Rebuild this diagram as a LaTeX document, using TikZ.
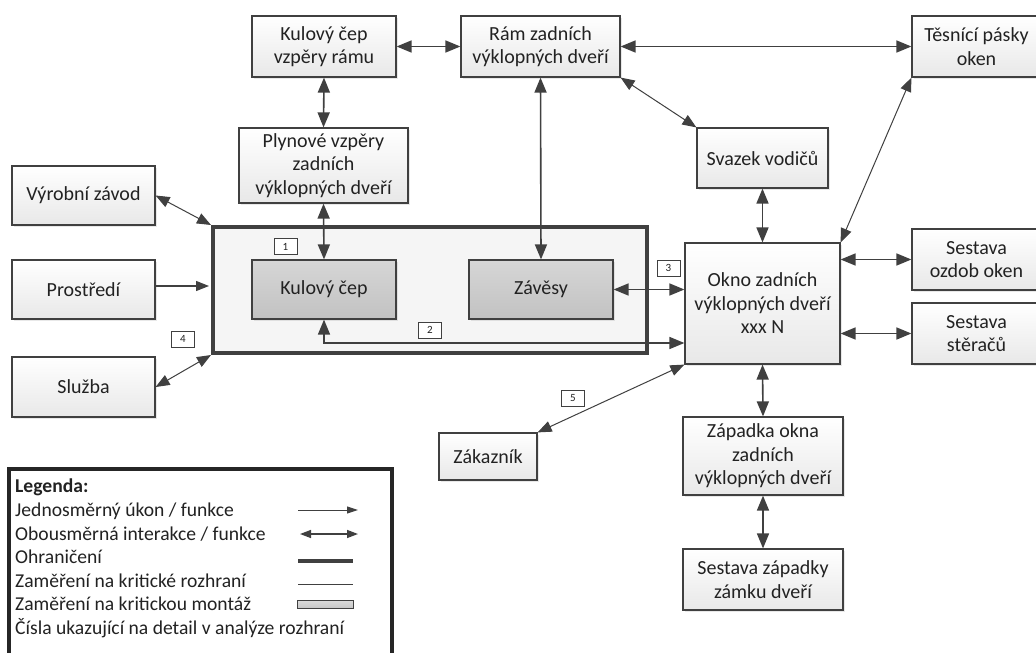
\documentclass[tikz,border=0pt]{standalone}
\usepackage{fontspec}
\setmainfont{Carlito}
\usetikzlibrary{arrows.meta,shadows,calc}
\definecolor{linegray}{HTML}{404040}
\definecolor{txtgray}{HTML}{222222}

\begin{document}
\begin{tikzpicture}[x=1pt,y=-1pt,
  box/.style={draw=linegray, line width=1.2pt, top color=white, bottom color=black!9,
    align=center, text=txtgray, inner sep=0pt,
    font=\fontsize{20}{23.5}\selectfont,
    drop shadow={shadow xshift=2pt,shadow yshift=-2pt,opacity=0.18}},
  critbox/.style={box, top color=black!16, bottom color=black!24},
  tag/.style={draw=linegray, line width=0.8pt, fill=white, inner sep=0pt,
    minimum width=23pt, minimum height=16pt,
    font=\fontsize{11}{12}\selectfont, text=txtgray},
  both/.style={draw=linegray, line width=1.6pt,
    {Triangle[length=15pt,width=12pt]}-{Triangle[length=15pt,width=12pt]}},
  thinboth/.style={draw=linegray, line width=1pt,
    {Triangle[length=14pt,width=11pt]}-{Triangle[length=14pt,width=11pt]}},
  one/.style={draw=linegray, line width=1.2pt, -{Triangle[length=13pt,width=10pt]}},
  legtext/.style={anchor=base west, inner sep=0pt, text=txtgray,
    font=\fontsize{19.6}{24}\selectfont},
]
\useasboundingbox (0,0) rectangle (1036,653);
\fill[white] (0,0) rectangle (1036,653);

% boundary of the analysed system
\node[draw=linegray, line width=4pt, fill=black!4, inner sep=0pt,
      minimum width=434pt, minimum height=126pt] (frame) at (430,290) {};

% top row
\node[box, minimum width=144pt, minimum height=61pt] (kv) at (324,46.5) {Kulový čep\\vzpěry rámu};
\node[box, minimum width=159pt, minimum height=61pt] (ram) at (540.5,46.5) {Rám zadních\\výklopných dveří};
\node[box, minimum width=129pt, minimum height=61pt] (tes) at (976.5,46.5) {Těsnící pásky\\oken};

\node[box, minimum width=169pt, minimum height=75pt] (plyn) at (323.5,165.5) {Plynové vzpěry\\zadních\\výklopných dveří};
\node[box, minimum width=131pt, minimum height=60pt] (svaz) at (762.5,158) {Svazek vodičů};

% left column
\node[box, minimum width=143pt, minimum height=59pt] (vyr) at (83.5,195.5) {Výrobní závod};
\node[box, minimum width=143pt, minimum height=59pt] (pro) at (83.5,289.5) {Prostředí};
\node[box, minimum width=143pt, minimum height=60pt] (slu) at (83.5,387) {Služba};

% critical assemblies
\node[critbox, minimum width=144pt, minimum height=59pt] (kc) at (324,289.5) {Kulový čep};
\node[critbox, minimum width=144pt, minimum height=59pt] (zav) at (541,289.5) {Závěsy};

% window and its neighbours
\node[box, minimum width=155pt, minimum height=121pt] (okno) at (762.5,303.5) {Okno zadních\\výklopných dveří\\xxx N};
\node[box, minimum width=129pt, minimum height=61pt] (ozdob) at (976.5,259.5) {Sestava\\ozdob oken};
\node[box, minimum width=129pt, minimum height=61pt] (ster) at (976.5,333.5) {Sestava\\stěračů};
\node[box, minimum width=98pt, minimum height=47pt] (zak) at (488,456.5) {Zákazník};
\node[box, minimum width=160pt, minimum height=78pt] (zap) at (763,456) {Západka okna\\zadních\\výklopných dveří};
\node[box, minimum width=160pt, minimum height=61pt] (ses) at (763,579.5) {Sestava západky\\zámku dveří};

% connectors
\draw[both] (kv.east) -- (ram.west);
\draw[both] (ram.east) -- (tes.west);
\draw[both] (kv.south) -- (plyn.north);
\draw[both] (plyn.south) -- (kc.north);
\draw[both] (ram.south) -- (zav.north);
\draw[thinboth] (ram.south east) -- (svaz.north west);
\draw[both] (svaz.south) -- (okno.north);
\draw[thinboth] (tes.south west) -- (okno.north east);
\draw[both] (okno.east |- ozdob.west) -- (ozdob.west);
\draw[both] (okno.east |- ster.west) -- (ster.west);
\draw[both] (zav.east) -- (zav.east -| okno.west);
\draw[both] (kc.south) |- ([yshift=-39.5pt]okno.west);
\draw[thinboth] (vyr.east) -- (frame.north west);
\draw[one, shorten >=2pt] ([yshift=3.5pt]pro.east) -- ([yshift=3.5pt]pro.east -| frame.west);
\draw[thinboth] (slu.east) -- (frame.south west);
\draw[thinboth] (okno.south west) -- (zak.north east);
\draw[both] (okno.south) -- (zap.north);
\draw[both] (zap.south) -- (ses.north);

% detail numbers
\node[tag] (t1) at (285.5,246.5) {1};
\node[tag] (t2) at (430,330) {2};
\node[tag] (t3) at (668.5,268) {3};
\node[tag] (t4) at (183,339) {4};
\node[tag] (t5) at (573,398.5) {5};

% legend (its lower edge runs past the page)
\node[draw=black!85, line width=4pt, fill=white, inner sep=0pt,
      minimum width=383pt, minimum height=196pt] (legend) at (200.5,567) {};
\node[legtext, font=\fontsize{19.6}{24}\selectfont\bfseries] (lg0) at (15,492) {Legenda:};
\node[legtext] (lg1) at (15,516) {Jednosměrný úkon / funkce};
\node[legtext] (lg2) at (15,540) {Obousměrná interakce / funkce};
\node[legtext] (lg3) at (15,563) {Ohraničení};
\node[legtext] (lg4) at (15,587) {Zaměření na kritické rozhraní};
\node[legtext] (lg5) at (15,610) {Zaměření na kritickou montáž};
\node[legtext] (lg6) at (15,634) {Čísla ukazující na detail v analýze rozhraní};

\coordinate (s1a) at (298,510); \coordinate (s1b) at (358,510);
\coordinate (s2a) at (300,534); \coordinate (s2b) at (358,534);
\coordinate (s3a) at (298,561); \coordinate (s3b) at (353,561);
\coordinate (s4a) at (298,584); \coordinate (s4b) at (353,584);
\draw[draw=linegray, line width=1pt, -{Triangle[length=11pt,width=7pt]}] (s1a) -- (s1b);
\draw[draw=linegray, line width=1.4pt,
      {Triangle[length=11pt,width=8pt]}-{Triangle[length=11pt,width=8pt]}] (s2a) -- (s2b);
\draw[draw=linegray, line width=3.5pt] (s3a) -- (s3b);
\draw[draw=linegray, line width=0.8pt] (s4a) -- (s4b);
\node[draw=linegray, line width=1pt, top color=black!14, bottom color=black!22,
      inner sep=0pt, minimum width=56pt, minimum height=8pt] (s5) at (325,604) {};
\end{tikzpicture}
\end{document}
